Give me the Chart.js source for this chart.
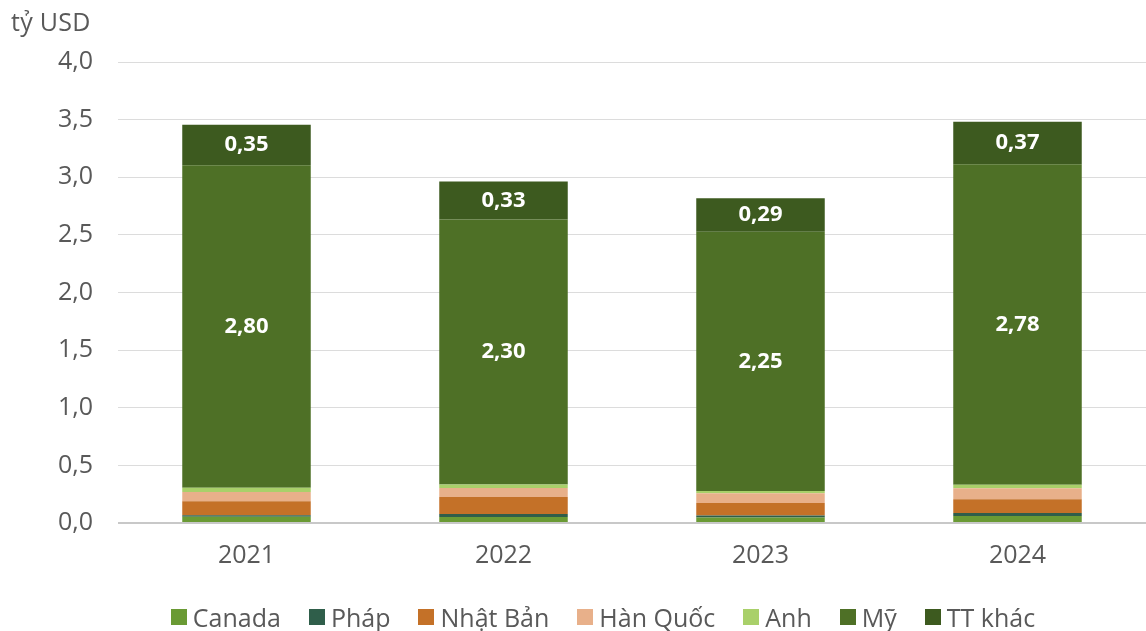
<!DOCTYPE html>
<html>
<head>
<meta charset="utf-8">
<script src="https://cdn.jsdelivr.net/npm/chart.js@4/dist/chart.umd.min.js"></script>
<style>
  body { margin: 0; background: #fff; }
  #wrap { position: relative; width: 1146px; height: 631px; font-family: "Open Sans", sans-serif; color: #595959; }
  #unit { position: absolute; left: 11px; top: 4px; font-size: 25px; letter-spacing: 0.3px; }
  #legend { position: absolute; left: 60px; right: 0; top: 602px; height: 30px; display: flex; justify-content: center; align-items: center; font-size: 25px; }
  #legend span.item { display: flex; align-items: center; margin: 0 14px; }
  #legend span.box { width: 16px; height: 16px; margin-right: 6px; display: inline-block; }
</style>
</head>
<body>
<div id="wrap">
  <div id="unit">tỷ USD</div>
  <canvas id="chart" width="1146" height="631"></canvas>
  <div id="legend"></div>
</div>
<script>
// years on the x axis
const years = ["2021", "2022", "2023", "2024"];

// export value by market, tỷ USD
const canada = [0.055, 0.052, 0.047, 0.06];
const phap = [0.013, 0.026, 0.017, 0.026];
const nhatBan = [0.12, 0.148, 0.11, 0.12];
const hanQuoc = [0.08, 0.078, 0.084, 0.096];
const anh = [0.037, 0.03, 0.02, 0.03];
const my = [2.80, 2.30, 2.25, 2.78];
const ttKhac = [0.35, 0.33, 0.29, 0.37];

const yTicks = [0, 0.5, 1, 1.5, 2, 2.5, 3, 3.5, 4];

const fmt = (v, d) => v.toFixed(d).replace(".", ",");
const FONT = "'Open Sans', sans-serif";

// white value labels inside the two big segments
const barLabels = {
  id: "barLabels",
  afterDatasetsDraw(chart) {
    const ctx = chart.ctx;
    ctx.save();
    ctx.font = "bold 22px " + FONT;
    ctx.fillStyle = "#ffffff";
    ctx.textAlign = "center";
    ctx.textBaseline = "middle";
    chart.data.datasets.forEach((ds, i) => {
      if (!ds.showValue) return;
      chart.getDatasetMeta(i).data.forEach((bar, j) => {
        const yMid = (bar.y + bar.base) / 2;
        ctx.fillText(fmt(ds.data[j], 2), bar.x, yMid);
      });
    });
    ctx.restore();
  }
};

const ctx = document.getElementById("chart").getContext("2d");
const chart = new Chart(ctx, {
  type: "bar",
  data: {
    labels: years,
    datasets: [
      { label: "Canada", data: canada, backgroundColor: "#6a9a34" },
      { label: "Pháp", data: phap, backgroundColor: "#2f5e4a" },
      { label: "Nhật Bản", data: nhatBan, backgroundColor: "#c47128" },
      { label: "Hàn Quốc", data: hanQuoc, backgroundColor: "#e8b08a" },
      { label: "Anh", data: anh, backgroundColor: "#a9d06a" },
      { label: "Mỹ", data: my, backgroundColor: "#4e7026", showValue: true },
      { label: "TT khác", data: ttKhac, backgroundColor: "#3d5a1f", showValue: true }
    ]
  },
  options: {
    responsive: false,
    animation: false,
    layout: { padding: { top: 62, right: 0, left: 0, bottom: 50 } },
    datasets: { bar: { barPercentage: 0.5, categoryPercentage: 1 } },
    plugins: {
      tooltip: { enabled: false },
      legend: { display: false }
    },
    scales: {
      x: {
        stacked: true,
        grid: { display: false },
        border: { display: false },
        ticks: { color: "#595959", padding: 10, font: { family: FONT, size: 25 } }
      },
      y: {
        stacked: true,
        min: 0,
        max: 4,
        afterBuildTicks(axis) { axis.ticks = yTicks.map(v => ({ value: v })); },
        afterFit(axis) { axis.width = 118; },
        grid: {
          color: (c) => c.tick && c.tick.value === 0 ? "#c8c8c8" : "#dcdcdc",
          lineWidth: (c) => c.tick && c.tick.value === 0 ? 2 : 1,
          drawTicks: false
        },
        border: { display: false },
        ticks: {
          color: "#595959",
          padding: 25,
          font: { family: FONT, size: 25 },
          callback: (v) => fmt(v, 1)
        }
      }
    }
  },
  plugins: [barLabels]
});

// legend row under the chart
const legend = document.getElementById("legend");
for (const ds of chart.data.datasets) {
  const item = document.createElement("span");
  item.className = "item";
  item.innerHTML = `<span class="box" style="background:${ds.backgroundColor}"></span>${ds.label}`;
  legend.appendChild(item);
}
</script>
</body>
</html>
